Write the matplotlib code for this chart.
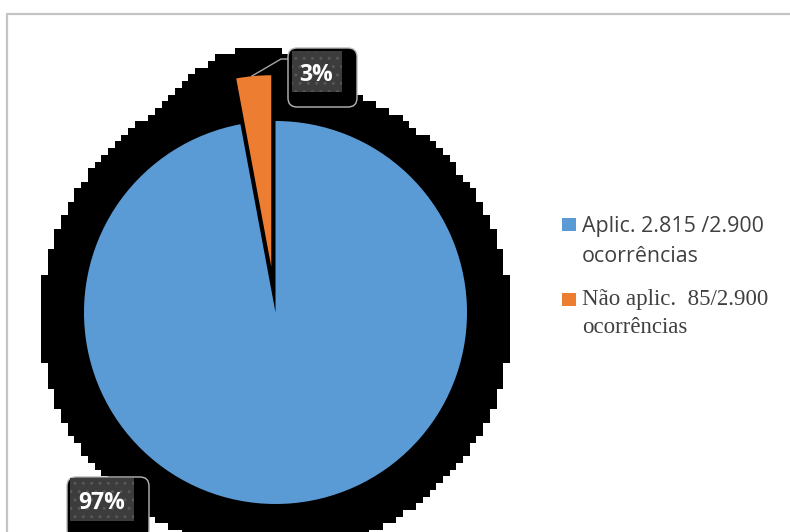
import numpy as np
import matplotlib
matplotlib.use("Agg")
import matplotlib.pyplot as plt
from matplotlib.patches import FancyBboxPatch, Rectangle

# ---- data ----
categories = ["Aplic. 2.815 /2.900\nocorrências", "Não aplic.  85/2.900\nocorrências"]
values = [2815, 85]
pct_labels = ["97%", "3%"]
colors = ["#5B9BD5", "#ED7D31"]
explode = [0.0, 0.24]

# ---- layout (pixels) ----
W, H = 790, 532
CX, CY, R = 275.5, 312.5, 191.5


def P(px, py):
    return ((px - CX) / R, (CY - py) / R)


def L(px):
    return px / R


# (inner box x, y, w, h), (outer box x, y, w, h), text centre x, baseline y
label_layout = [
    ((70, 478, 64, 43), (67, 477, 82, 62), 102, 509),
    ((292, 51, 50, 41), (288, 48, 69, 59), 316, 81),
]

fig = plt.figure(figsize=(W / 100, H / 100), dpi=100)
ax = fig.add_axes([0, 0, 1, 1])
wedges, _ = ax.pie(values, colors=colors, explode=explode, startangle=90,
                   counterclock=False, radius=1.0, center=(0, 0),
                   wedgeprops=dict(linewidth=0, zorder=3))

# ---- pixelated soft shadow derived from wedge shapes ----
cell = 6.7
pad = 160
xs = np.arange(-pad, W + pad, cell) + cell / 2
ys = np.arange(-pad, H + pad, cell) + cell / 2
GX, GY = np.meshgrid(xs, ys)
off = 5
pts = np.column_stack([(GX.ravel() - CX) / R, (CY - (GY.ravel() - off)) / R])
shadow_weight = [1.0, 2.1]
mask = np.zeros(GX.size)
for w, sw in zip(wedges, shadow_weight):
    mask += sw * w.get_path().contains_points(pts).astype(float)
mask = mask.reshape(GX.shape)
sig = 44 / cell
k = np.arange(-int(4 * sig), int(4 * sig) + 1)
g = np.exp(-0.5 * (k / sig) ** 2)
g /= g.sum()
blur = np.apply_along_axis(lambda r: np.convolve(r, g, mode="same"), 1, mask)
blur = np.apply_along_axis(lambda c: np.convolve(c, g, mode="same"), 0, blur)
shadow = blur > 0.135
rgba = np.zeros(shadow.shape + (4,))
rgba[..., 3] = shadow.astype(float)
x0, y0 = P(xs[0] - cell / 2, ys[0] - cell / 2)
x1, y1 = P(xs[-1] + cell / 2, ys[-1] + cell / 2)
ax.imshow(rgba, extent=(x0, x1, y1, y0), origin="upper",
          interpolation="nearest", zorder=1)

# ---- chart border ----
bx0, by0 = P(6.5, 13.5)
bx1, by1 = P(W + 5, H + 5)
ax.plot([bx0, bx0, bx1], [by1, by0, by0], color="#C4C4C4", lw=1.6,
        zorder=0, solid_capstyle="butt")

# ---- leader line for the small slice ----
wo = wedges[1]
tm = np.deg2rad(0.5 * (wo.theta1 + wo.theta2))
sx = wo.center[0] + 0.99 * np.cos(tm) - 0.01
sy = wo.center[1] + 0.99 * np.sin(tm) + 0.01
ex1, ey1 = P(281, 59)
ex2, ey2 = P(289, 59)
ax.plot([sx, ex1, ex2], [sy, ey1, ey2], color="#A6A6A6", lw=1.0, zorder=4)

# ---- data labels ----
for txt, (inner, outer, tx, ty) in zip(pct_labels, label_layout):
    ox, oy, ow, oh = outer
    ax.add_patch(FancyBboxPatch(P(ox, oy + oh), L(ow), L(oh),
                                boxstyle=f"round,pad=0,rounding_size={L(9)}",
                                facecolor="black", edgecolor="#B8B8B8",
                                lw=1.0, zorder=5))
    ix, iy, iw, ih = inner
    ax.add_patch(Rectangle(P(ix, iy + ih), L(iw), L(ih), facecolor="#3C3C3C",
                           edgecolor="#575757", lw=0, hatch="..", zorder=6))
    ax.text(*P(tx, ty), txt, color="white", fontsize=16.5, fontweight="bold",
            family=["Open Sans", "DejaVu Sans"], ha="center", va="baseline",
            zorder=7)

# ---- legend ----
legend_fonts = [(["Open Sans", "DejaVu Sans"], 15.4), (["Liberation Serif", "DejaVu Serif"], 16.5)]
legend_rows = [(218, 232, 30), (293, 305, 28)]
for cat, col, (fam, fs), (sq_y, base, lh) in zip(categories, colors, legend_fonts, legend_rows):
    ax.add_patch(Rectangle(P(562, sq_y + 13), L(14), L(13), facecolor=col,
                           edgecolor="none", zorder=5))
    for j, line in enumerate(cat.split("\n")):
        ax.text(*P(582, base + j * lh), line, color="#404040", fontsize=fs,
                family=fam, ha="left", va="baseline", zorder=5)

ax.set_xlim(-CX / R, (W - CX) / R)
ax.set_ylim((CY - H) / R, CY / R)
ax.set_aspect("auto")
ax.axis("off")
fig.savefig("out.png", dpi=100, facecolor="white")
